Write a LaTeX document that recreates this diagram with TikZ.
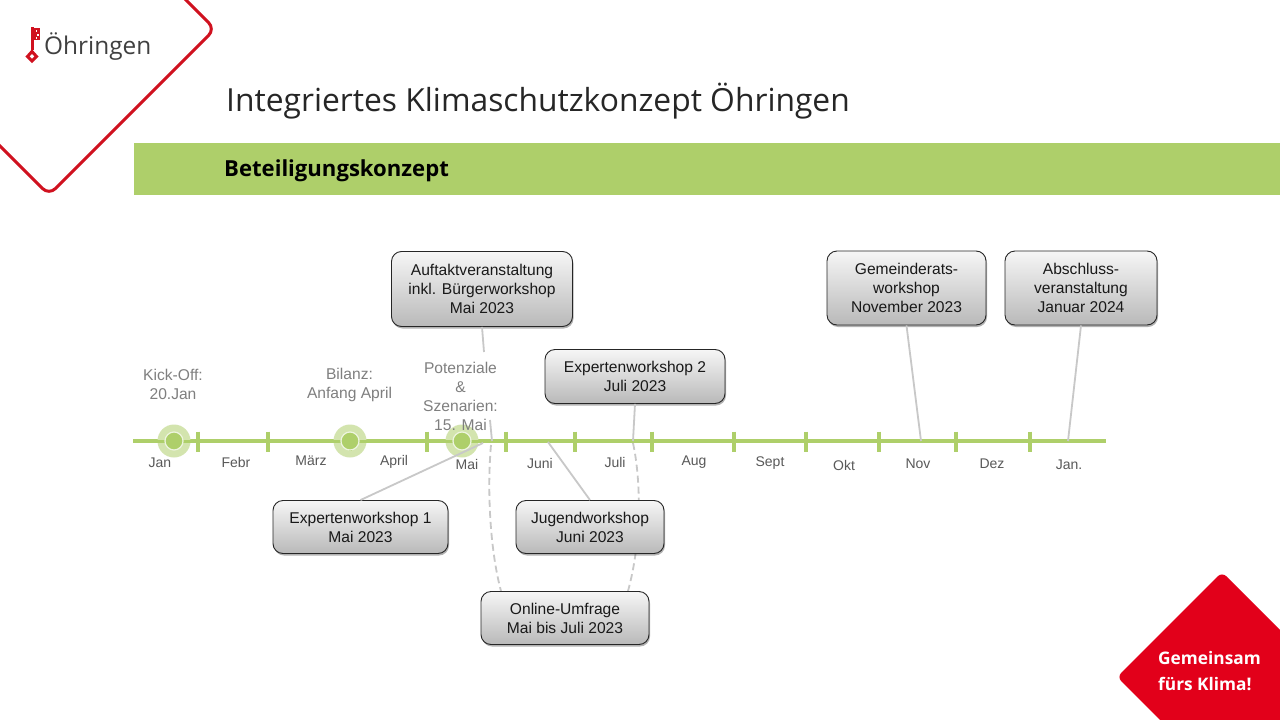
\documentclass[tikz,border=0pt]{standalone}
\usepackage{fontspec}
\setmainfont{Liberation Sans}
\newfontfamily\titlefont{Open Sans}
\usetikzlibrary{shadows,backgrounds}
\definecolor{lgreen}{HTML}{AECF6A}
\definecolor{pale}{HTML}{D3E4AE}
\definecolor{redl}{HTML}{D0111F}
\definecolor{redf}{HTML}{E2001A}
\definecolor{conn}{HTML}{C8C8C8}
\definecolor{monthc}{HTML}{595959}
\definecolor{evc}{HTML}{7F7F7F}
\tikzset{
 x=1pt,y=-1pt,
 evbox/.style={draw=black!85,line width=0.9pt,rounded corners=10pt,top color=gray!7,bottom color=gray!55,
   align=center,font=\fontsize{15.6}{19}\selectfont,text=black!90,inner sep=0pt,
   drop shadow={shadow xshift=1pt,shadow yshift=-2pt,opacity=0.3,fill=black}},
 link/.style={draw=conn,line width=1.8pt},
 dlink/.style={draw=conn,line width=1.8pt,dash pattern=on 7pt off 4pt},
 tick/.style={draw=lgreen,line width=3.2pt},
 month/.style={font=\fontsize{14}{16}\selectfont,text=monthc,inner sep=0pt},
 evlabel/.style={font=\fontsize{15.6}{19}\selectfont,text=evc,align=center,inner sep=0pt},
 halo/.style={circle,fill=pale,minimum size=33pt,inner sep=0pt},
 core/.style={circle,fill=lgreen,draw=pale!40!white,line width=1.2pt,minimum size=18pt,inner sep=0pt},
}
\begin{document}
\begin{tikzpicture}
\useasboundingbox (0,0) rectangle (1280,720);
\clip (0,0) rectangle (1280,720);
\begin{scope}[on background layer]
\fill[white] (0,0) rectangle (1280,720);
\end{scope}
% frame and logo
\draw[redl,line width=3pt,rounded corners=9pt] (175,-11) -- (215,29) -- (49,195) -- (-11,135);
\fill[redl] (30.5,27) rectangle (33.5,50);
\fill[redl] (33.5,28) rectangle (40,40);
\fill[white] (35.5,30) rectangle (37,31.5);
\fill[white] (37,34) rectangle (38.5,35.5);
\fill[white] (35.5,37) rectangle (37,38.5);
\draw[redl,line width=3pt] (32,51.5) -- (36.5,56.5) -- (32,61) -- (27.5,56.5) -- cycle;
\node[anchor=west,inner sep=0pt,font=\titlefont\fontsize{24.4}{30}\selectfont,text=black!75] (logo) at (44,47) {Öhringen};
% header
\node[anchor=west,inner sep=0pt,font=\titlefont\fontsize{31.8}{40}\selectfont,text=black!85] (title) at (226,101) {Integriertes Klimaschutzkonzept Öhringen};
\fill[lgreen] (134,143) rectangle (1280,195);
\node[anchor=west,inner sep=0pt,font=\titlefont\bfseries\fontsize{22.1}{28}\selectfont,text=black] (sub) at (224,171) {Beteiligungskonzept};
% timeline
\coordinate (tlA) at (133,441);
\coordinate (tlB) at (1106,441);
\draw[draw=lgreen,line width=4pt] (tlA) -- (tlB);
\foreach \x in {198,268,350,427,506,575,652,734,806,879,956,1030}
  \draw[tick] (\x,431.5) -- (\x,452);
% milestones
\node[halo] (h1) at (174,441) {};
\node[halo] (h2) at (350,441) {};
\node[halo] (h3) at (462,441) {};
\draw[draw=lgreen,line width=3pt] (155,441) -- (193,441);
\draw[draw=lgreen,line width=3pt] (331,441) -- (369,441);
\draw[draw=lgreen,line width=3pt] (350,432) -- (350,451);
\draw[draw=lgreen,line width=3pt] (443,441) -- (481,441);
\node[core] (c1) at (174,441) {};
\node[core] (c2) at (350,441) {};
\node[core] (c3) at (462,441) {};
% labels
\node[evlabel] (kick) at (173,384) {Kick-Off:\\20.Jan};
\node[evlabel] (bil) at (349.5,385) {Bilanz:\\Anfang April};
\node[evlabel] (pot) at (460.5,396) {Potenziale\\\&\\Szenarien:\\15. Mai};
\node[month] (m1) at (160,463) {Jan};
\node[month] (m2) at (236,462) {Febr};
\node[month] (m3) at (311,461) {März};
\node[month] (m4) at (394,462) {April};
\node[month] (m5) at (467,464) {Mai};
\node[month] (m6) at (540,463) {Juni};
\node[month] (m7) at (615,462) {Juli};
\node[month] (m8) at (694,462) {Aug};
\node[month] (m9) at (770,463) {Sept};
\node[month] (m10) at (844,465) {Okt};
\node[month] (m11) at (918,464) {Nov};
\node[month] (m12) at (992,464) {Dez};
\node[month] (m13) at (1069,465) {Jan.};
% boxes
\node[evbox,minimum width=181pt,minimum height=75pt] (auf) at (482,289) {Auftaktveranstaltung\\inkl. Bürgerworkshop\\Mai 2023};
\node[evbox,minimum width=180pt,minimum height=54pt] (ex2) at (635,376.5) {Expertenworkshop  2\\Juli 2023};
\node[evbox,minimum width=159pt,minimum height=74pt] (gem) at (906.5,288) {Gemeinderats-\\workshop\\November 2023};
\node[evbox,minimum width=152pt,minimum height=74pt] (abs) at (1081,288) {Abschluss-\\veranstaltung\\Januar 2024};
\node[evbox,minimum width=175pt,minimum height=53pt] (ex1) at (360.5,527) {Expertenworkshop  1\\Mai 2023};
\node[evbox,minimum width=148pt,minimum height=53pt] (jug) at (590,527) {Jugendworkshop\\Juni 2023};
\node[evbox,minimum width=168pt,minimum height=53pt] (onl) at (565,618) {Online-Umfrage\\Mai bis Juli 2023};
% connector ends on the line
\coordinate (pB) at (484,352);
\coordinate (pC) at (490,420);
\coordinate (pD) at (492,441);
\coordinate (e1) at (483,443);
\coordinate (j1) at (548,442);
\coordinate (x2) at (633,441);
\coordinate (g1) at (921,441);
\coordinate (a1) at (1068,441);
\coordinate (o1) at (491,445);
\coordinate (o2) at (633,443);
\draw[link] (auf.south) -- (pB);
\draw[link] (pC) -- (pD);
\draw[link] (ex1.north) -- (e1);
\draw[link] (jug.north) -- (j1);
\draw[link] (ex2.south) -- (x2);
\draw[link] (gem.south) -- (g1);
\draw[link] (abs.south) -- (a1);
\begin{scope}[on background layer]
\draw[dlink] (o1) .. controls (487,490) and (490,550) .. (onl.north west -| 501,590);
\draw[dlink] (o2) .. controls (641,480) and (642,540) .. (onl.north east -| 628,590);
\end{scope}
% corner badge
\fill[redf,rounded corners=6pt] (1222,572) -- (1300,650) -- (1300,740) -- (1180,740) -- (1117,677) -- cycle;
\node[anchor=west,align=left,inner sep=0pt,text=white,font=\titlefont\bfseries\fontsize{17.3}{26}\selectfont] (badge) at (1158,671) {Gemeinsam\\fürs Klima!};
\end{tikzpicture}
\end{document}
